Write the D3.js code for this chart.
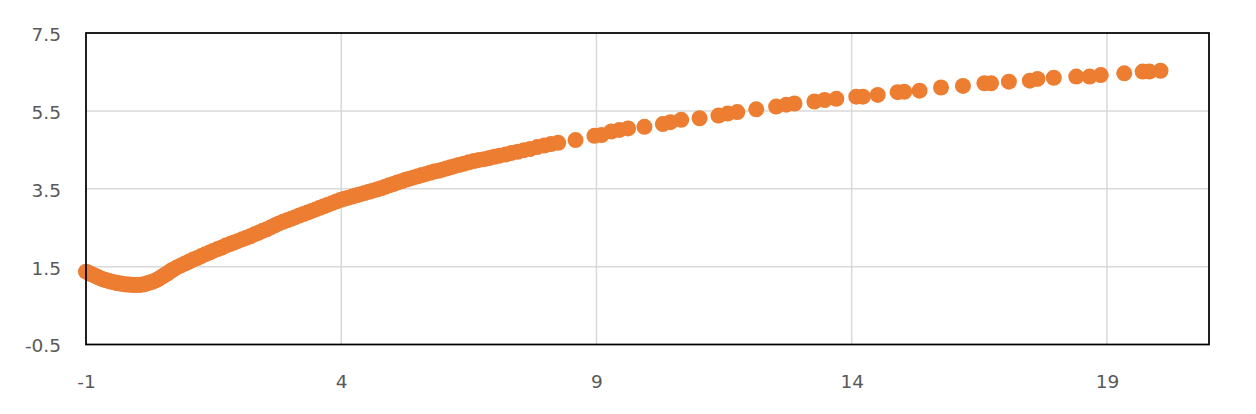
<!DOCTYPE html>
<html>
<head>
<meta charset="utf-8">
<script src="https://cdn.jsdelivr.net/npm/d3@7"></script>
<style>
html,body{margin:0;padding:0;background:#fff;}
svg{display:block;}
</style>
</head>
<body>
<svg id="chart" width="1256" height="414"></svg>
<script>
const xTicks = [-1, 4, 9, 14, 19];
const yTicks = [-0.5, 1.5, 3.5, 5.5, 7.5];

const xValues = [
  -1.00,-0.95,-0.90,-0.85,-0.80,-0.75,-0.70,-0.65,-0.60,-0.55,-0.50,-0.45,-0.40,-0.35,-0.30,-0.25,-0.20,-0.15,-0.10,-0.05,
  0.00,0.05,0.10,0.15,0.20,0.25,0.30,0.35,0.40,0.45,0.50,0.55,0.60,0.65,0.70,0.78,0.86,0.94,1.02,1.10,
  1.18,1.26,1.34,1.42,1.50,1.58,1.66,1.74,1.82,1.90,1.98,2.06,2.14,2.22,2.30,2.38,2.46,2.54,2.62,2.70,
  2.78,2.86,2.94,3.02,3.10,3.18,3.26,3.34,3.42,3.50,3.58,3.66,3.74,3.82,3.90,3.98,4.06,4.14,4.22,4.30,
  4.38,4.46,4.54,4.62,4.70,4.78,4.86,4.94,5.02,5.10,5.18,5.26,5.34,5.42,5.50,5.58,5.66,5.74,5.82,5.90,
  5.98,6.06,6.14,6.22,6.30,6.40,6.50,6.60,6.70,6.80,6.90,7.00,7.10,7.22,7.34,7.46,7.58,7.70,7.84,7.98,
  8.11,8.25,8.59,8.96,9.10,9.29,9.45,9.62,9.94,10.30,10.45,10.66,11.02,11.39,11.57,11.76,12.13,12.52,12.72,12.88,
  13.27,13.47,13.70,14.09,14.22,14.51,14.90,15.03,15.33,15.75,16.18,16.60,16.73,17.08,17.49,17.64,17.96,18.40,18.66,18.88,
  19.34,19.70,19.83,20.05
];
const yValues = [
  1.37,1.34,1.31,1.28,1.25,1.22,1.19,1.17,1.15,1.13,1.11,1.10,1.08,1.07,1.06,1.05,1.04,1.04,1.03,1.03,
  1.03,1.03,1.04,1.05,1.07,1.09,1.11,1.14,1.17,1.21,1.25,1.29,1.33,1.38,1.42,1.48,1.53,1.58,1.63,1.68,
  1.72,1.77,1.82,1.86,1.91,1.95,1.99,2.04,2.08,2.12,2.16,2.20,2.24,2.28,2.33,2.37,2.42,2.46,2.51,2.56,
  2.61,2.65,2.69,2.73,2.77,2.81,2.85,2.89,2.93,2.97,3.01,3.05,3.09,3.13,3.17,3.21,3.24,3.27,3.30,3.33,
  3.36,3.39,3.42,3.45,3.48,3.51,3.55,3.59,3.62,3.66,3.69,3.73,3.76,3.79,3.82,3.85,3.88,3.91,3.94,3.96,
  3.99,4.02,4.05,4.08,4.11,4.14,4.18,4.21,4.24,4.26,4.29,4.32,4.35,4.38,4.42,4.45,4.49,4.52,4.57,4.61,
  4.65,4.68,4.75,4.86,4.88,4.97,5.01,5.05,5.09,5.16,5.21,5.27,5.31,5.38,5.43,5.47,5.54,5.61,5.66,5.69,
  5.74,5.78,5.81,5.865,5.865,5.91,5.98,5.99,6.02,6.10,6.14,6.21,6.21,6.25,6.275,6.32,6.35,6.38,6.38,6.42,
  6.465,6.51,6.51,6.53
];

const points = xValues.map((x, i) => ({x, y: yValues[i]}));

const plot = {left: 86, right: 1209, top: 33, bottom: 344.5};
const svg = d3.select("#chart");

const x = d3.scaleLinear().domain([-1, 21]).range([plot.left, plot.right]);
const y = d3.scaleLinear().domain([-0.5, 7.5]).range([plot.bottom, plot.top]);

// gridlines
svg.append("g")
  .selectAll("line").data(xTicks.slice(1)).join("line")
  .attr("x1", d => x(d)).attr("x2", d => x(d))
  .attr("y1", plot.top).attr("y2", plot.bottom)
  .attr("stroke", "#d9d9d9").attr("stroke-width", 1.5);
svg.append("g")
  .selectAll("line").data(yTicks.slice(1, -1)).join("line")
  .attr("x1", plot.left).attr("x2", plot.right)
  .attr("y1", d => y(d)).attr("y2", d => y(d))
  .attr("stroke", "#d9d9d9").attr("stroke-width", 1.5);

// points
svg.append("g")
  .selectAll("circle").data(points).join("circle")
  .attr("cx", d => x(d.x)).attr("cy", d => y(d.y))
  .attr("r", 8)
  .attr("fill", "#ED7D31");

// plot border
svg.append("rect")
  .attr("x", plot.left).attr("y", plot.top)
  .attr("width", plot.right - plot.left).attr("height", plot.bottom - plot.top)
  .attr("fill", "none").attr("stroke", "#000").attr("stroke-width", 1.75);

const fontFam = "DejaVu Sans, sans-serif";

// axes (labels only)
const yAxis = d3.axisLeft(y).tickValues(yTicks).tickSize(0).tickPadding(0)
  .tickFormat(d => String(d));
const gy = svg.append("g").attr("transform", `translate(61,1.5)`).call(yAxis);
gy.select(".domain").remove();
gy.selectAll("text").attr("font-family", fontFam)
  .attr("font-size", 18.5).attr("fill", "#595959");

const xAxis = d3.axisBottom(x).tickValues(xTicks).tickSize(0).tickPadding(0)
  .tickFormat(d => String(d));
const gx = svg.append("g").attr("transform", `translate(0,375)`).call(xAxis);
gx.select(".domain").remove();
gx.selectAll("text").attr("font-family", fontFam)
  .attr("font-size", 18.5).attr("fill", "#595959");
</script>
</body>
</html>
